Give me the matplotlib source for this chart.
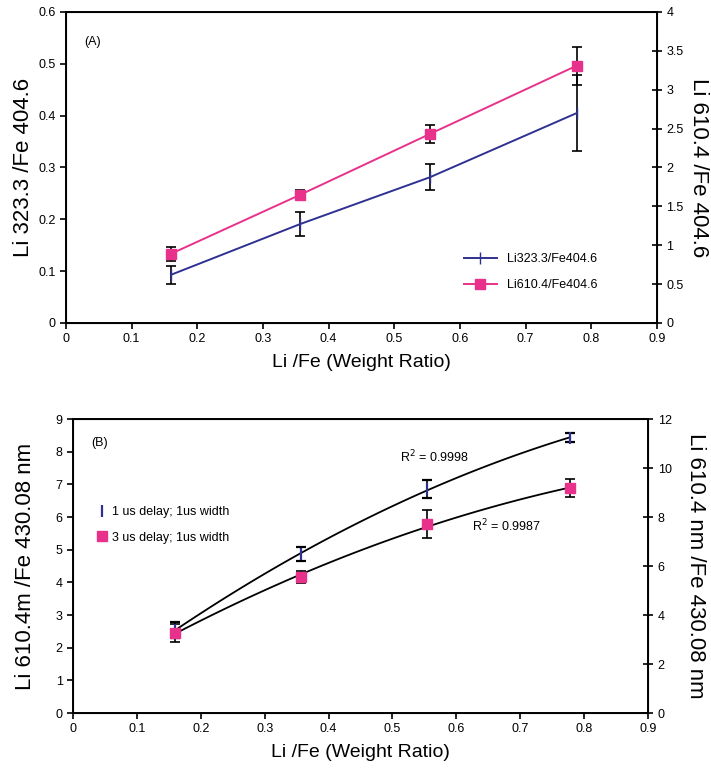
import numpy as np
import matplotlib
matplotlib.use("Agg")
import matplotlib.pyplot as plt
from matplotlib.ticker import FuncFormatter
from matplotlib.lines import Line2D

plt.rcParams['font.family'] = ['Liberation Sans', 'DejaVu Sans']

# panel A
x_a = [0.16, 0.357, 0.554, 0.778]
li323 = [0.093, 0.191, 0.281, 0.405]
li323_err = [0.017, 0.023, 0.025, 0.074]
li610 = [0.89, 1.65, 2.43, 3.31]
li610_err = [0.093, 0.06, 0.12, 0.245]

# panel B
x_b = [0.16, 0.357, 0.554, 0.778]
d1 = [2.55, 4.86, 6.85, 8.43]
d1_err = [0.25, 0.22, 0.28, 0.13]
d3 = [2.46, 4.16, 5.78, 6.88]
d3_err = [0.28, 0.19, 0.43, 0.27]
r2_d1 = "R$^2$ = 0.9998"
r2_d3 = "R$^2$ = 0.9987"

blue = '#2e3192'
pink = '#e8318a'
fmt = FuncFormatter(lambda v, p: ('%g' % round(v, 3)))
eb = dict(ecolor='black', elinewidth=1.2, capsize=3.5, capthick=1.2)

fig = plt.figure(figsize=(7.11, 7.69), dpi=100)

def style(ax, axr):
    for s in ax.spines.values():
        s.set_linewidth(1.4)
    ax.tick_params(direction='out', length=4, width=1.2, labelsize=9)
    axr.tick_params(direction='inout', length=7, width=1.2, labelsize=9)
    ax.xaxis.set_major_formatter(fmt)
    ax.yaxis.set_major_formatter(fmt)
    axr.yaxis.set_major_formatter(fmt)

# ---- (A)
ax1 = fig.add_axes([0.0928, 0.580, 0.831, 0.4044])
ax1r = ax1.twinx()
ax1.errorbar(x_a, li323, yerr=li323_err, color=blue, marker='|', ms=9, lw=1.4, **eb)
ax1r.errorbar(x_a, li610, yerr=li610_err, color=pink, marker='s', ms=7, lw=1.4, **eb)
ax1.set_xlim(0, 0.9)
ax1.set_ylim(0, 0.6)
ax1r.set_ylim(0, 4)
ax1.set_xticks(np.arange(0, 0.91, 0.1))
ax1.set_yticks(np.arange(0, 0.61, 0.1))
ax1r.set_yticks(np.arange(0, 4.01, 0.5))
ax1.set_xlabel('Li /Fe (Weight Ratio)', fontsize=14, labelpad=6)
ax1.set_ylabel('Li 323.3 /Fe 404.6', fontsize=16, labelpad=3)
ax1r.set_ylabel('Li 610.4 /Fe 404.6', fontsize=16, rotation=270, labelpad=18)
ax1.text(0.031, 0.902, '(A)', transform=ax1.transAxes, fontsize=9, va='center')
style(ax1, ax1r)
hA = [Line2D([], [], color=blue, marker='|', ms=9, lw=1.4),
      Line2D([], [], color=pink, marker='s', ms=7, lw=1.4)]
ax1.legend(hA, ['Li323.3/Fe404.6', 'Li610.4/Fe404.6'], loc='center left',
           bbox_to_anchor=(0.655, 0.163), frameon=False, fontsize=9,
           handlelength=2.6, labelspacing=1.1)

# ---- (B)
ax2 = fig.add_axes([0.1027, 0.0728, 0.8087, 0.3823])
ax2r = ax2.twinx()
xs = np.linspace(x_b[0], x_b[-1], 100)
ax2.plot(xs, np.polyval(np.polyfit(x_b, d1, 2), xs), color='black', lw=1.3)
ax2.plot(xs, np.polyval(np.polyfit(x_b, d3, 2), xs), color='black', lw=1.3)
ax2.errorbar(x_b, d1, yerr=d1_err, color=blue, marker='|', ms=9, mew=1.6, ls='none', **eb)
ax2.errorbar(x_b, d3, yerr=d3_err, color=pink, marker='s', ms=7, ls='none', **eb)
ax2.set_xlim(0, 0.9)
ax2.set_ylim(0, 9)
ax2r.set_ylim(0, 12)
ax2.set_xticks(np.arange(0, 0.91, 0.1))
ax2.set_yticks(np.arange(0, 9.1, 1))
ax2r.set_yticks(np.arange(0, 12.1, 2))
ax2.set_xlabel('Li /Fe (Weight Ratio)', fontsize=14, labelpad=6)
ax2.set_ylabel('Li 610.4m /Fe 430.08 nm', fontsize=16, labelpad=14)
ax2r.set_ylabel('Li 610.4 nm /Fe 430.08 nm', fontsize=16, rotation=270, labelpad=25)
ax2.text(0.032, 0.917, '(B)', transform=ax2.transAxes, fontsize=9, va='center')
ax2.text(0.512, 7.85, r2_d1, fontsize=9, va='center')
ax2.text(0.624, 5.72, r2_d3, fontsize=9, va='center')
style(ax2, ax2r)
hB = [Line2D([], [], color=blue, marker='|', ms=9, mew=1.6, ls='none'),
      Line2D([], [], color=pink, marker='s', ms=7, ls='none')]
ax2.legend(hB, ['1 us delay; 1us width', '3 us delay; 1us width'], loc='center left',
           bbox_to_anchor=(0.02, 0.64), frameon=False, fontsize=9,
           handlelength=1.0, handletextpad=0.3, labelspacing=1.1)

fig.savefig('out.png', dpi=100)
